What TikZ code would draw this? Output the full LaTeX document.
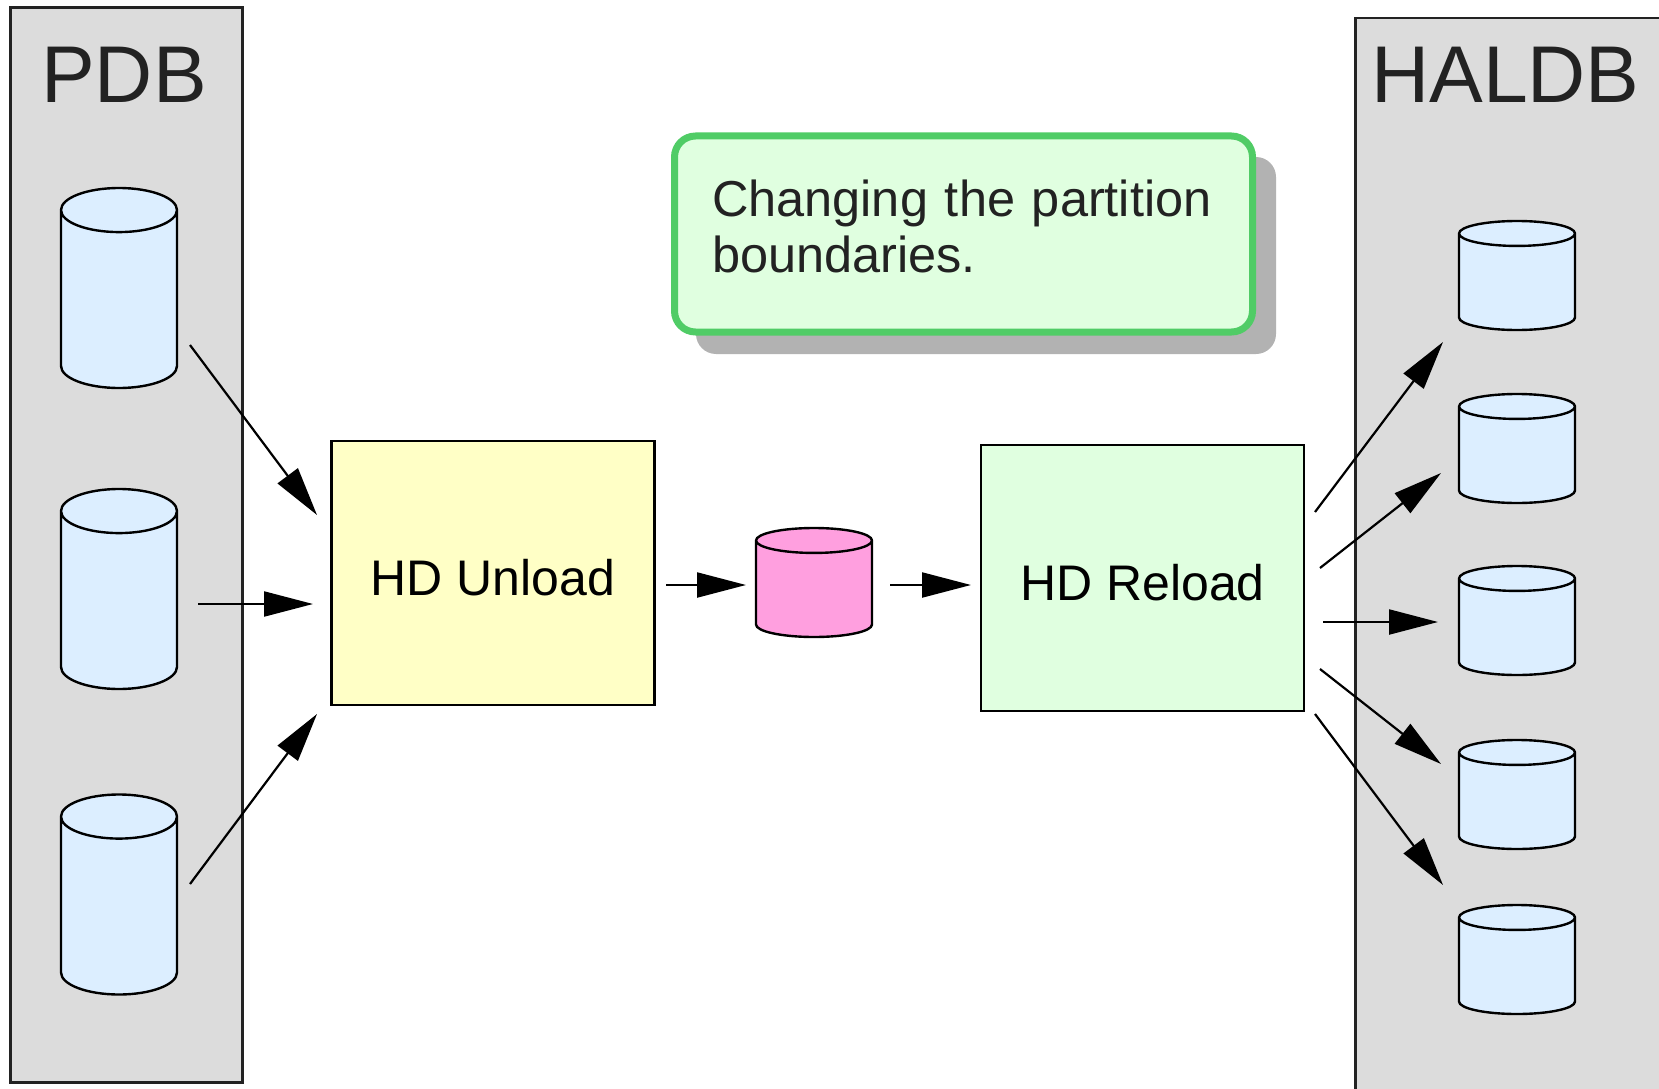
\documentclass[tikz,border=0pt]{standalone}
\usepackage{fontspec}
\setmainfont{Liberation Sans}
\usetikzlibrary{shapes.geometric,arrows.meta}
\definecolor{panelgray}{HTML}{DCDCDC}
\definecolor{dbblue}{HTML}{DCEEFF}
\definecolor{dbpink}{HTML}{FF9FDF}
\definecolor{unloadyellow}{HTML}{FFFFC6}
\definecolor{reloadgreen}{HTML}{E0FFE0}
\definecolor{noteborder}{HTML}{50CC66}
\definecolor{titlegray}{HTML}{222222}
\tikzset{
  panel/.style={draw=titlegray,line width=2.8pt,fill=panelgray},
  paneltitle/.style={anchor=base west,inner sep=0pt,text=titlegray,font=\fontsize{80.5}{90}\selectfont},
  db/.style={shape=cylinder,anchor=shape center,draw=black,line width=2.4pt,shape border rotate=90,outer sep=0pt,inner xsep=58pt,inner ysep=0pt,minimum width=115pt},
  tall/.style={db,fill=dbblue,minimum height=200pt,aspect=0.38},
  short/.style={db,fill=dbblue,minimum height=109pt,aspect=0.215},
  job/.style={draw=black,line width=2.4pt,inner sep=0pt,outer sep=0pt,text height=44.5pt,text depth=0pt,font=\fontsize{50}{56}\selectfont,minimum width=323pt},
  flow/.style={line width=2.2pt,-{Triangle[length=49pt,width=25pt]}}
}
\begin{document}
\begin{tikzpicture}[x=1pt,y=-1pt]
\useasboundingbox (0,0) rectangle (1659,1089);
\draw[panel] (10.5,7.5) rectangle (242.5,1082.5);
\draw[panel] (1355.5,18) rectangle (1680,1110);
\node[paneltitle] (pdbtitle) at (41,103) {PDB};
\node[paneltitle] (haldbtitle) at (1371,103) {HALDB};
\node[tall] (pdba) at (119,288) {};
\node[tall] (pdbb) at (119,589) {};
\node[tall] (pdbc) at (119,894.5) {};
\node[short] (halda) at (1517,275.5) {};
\node[short] (haldb) at (1517,448.5) {};
\node[short] (haldc) at (1517,620.5) {};
\node[short] (haldd) at (1517,794.5) {};
\node[short] (halde) at (1517,959.5) {};
\node[short,fill=dbpink] (temp) at (814,582.5) {};
\node[job,fill=unloadyellow,minimum height=264pt] (unload) at (493,573) {HD Unload};
\node[job,fill=reloadgreen,minimum height=266pt] (reload) at (1142.5,578) {HD Reload};
\node[fill=black!30,rounded corners=20pt,minimum width=580pt,minimum height=197pt,inner sep=0pt] (noteshadow) at (986,255.5) {};
\node[draw=noteborder,line width=7pt,fill=reloadgreen,rounded corners=21pt,minimum width=578pt,minimum height=196pt,inner sep=0pt] (note) at (963.5,234) {};
\node[inner sep=0pt,text width=503pt,align=left,text=titlegray,font=\fontsize{50.5}{56}\selectfont] (notetext) at (963.5,226.6) {Changing the partition\\boundaries.};
\coordinate (ina) at (190,345);
\coordinate (inb) at (198,604);
\coordinate (inc) at (190,884);
\coordinate (enda) at (317,515);
\coordinate (endb) at (313,604);
\coordinate (endc) at (317,714);
\draw[flow] (ina) -- (enda);
\draw[flow] (inb) -- (endb);
\draw[flow] (inc) -- (endc);
\coordinate (tempin) at (666,585);
\coordinate (tempinend) at (746,585);
\coordinate (tempout) at (890,585);
\coordinate (tempoutend) at (971,585);
\draw[flow] (tempin) -- (tempinend);
\draw[flow] (tempout) -- (tempoutend);
\coordinate (outa) at (1315,512);
\coordinate (outb) at (1320,568);
\coordinate (outc) at (1323,622);
\coordinate (outd) at (1320,669);
\coordinate (oute) at (1315,714);
\coordinate (toa) at (1443,342);
\coordinate (tob) at (1441,473);
\coordinate (toc) at (1438,622);
\coordinate (tod) at (1441,764);
\coordinate (toe) at (1443,885);
\draw[flow] (outa) -- (toa);
\draw[flow] (outb) -- (tob);
\draw[flow] (outc) -- (toc);
\draw[flow] (outd) -- (tod);
\draw[flow] (oute) -- (toe);
\end{tikzpicture}
\end{document}
